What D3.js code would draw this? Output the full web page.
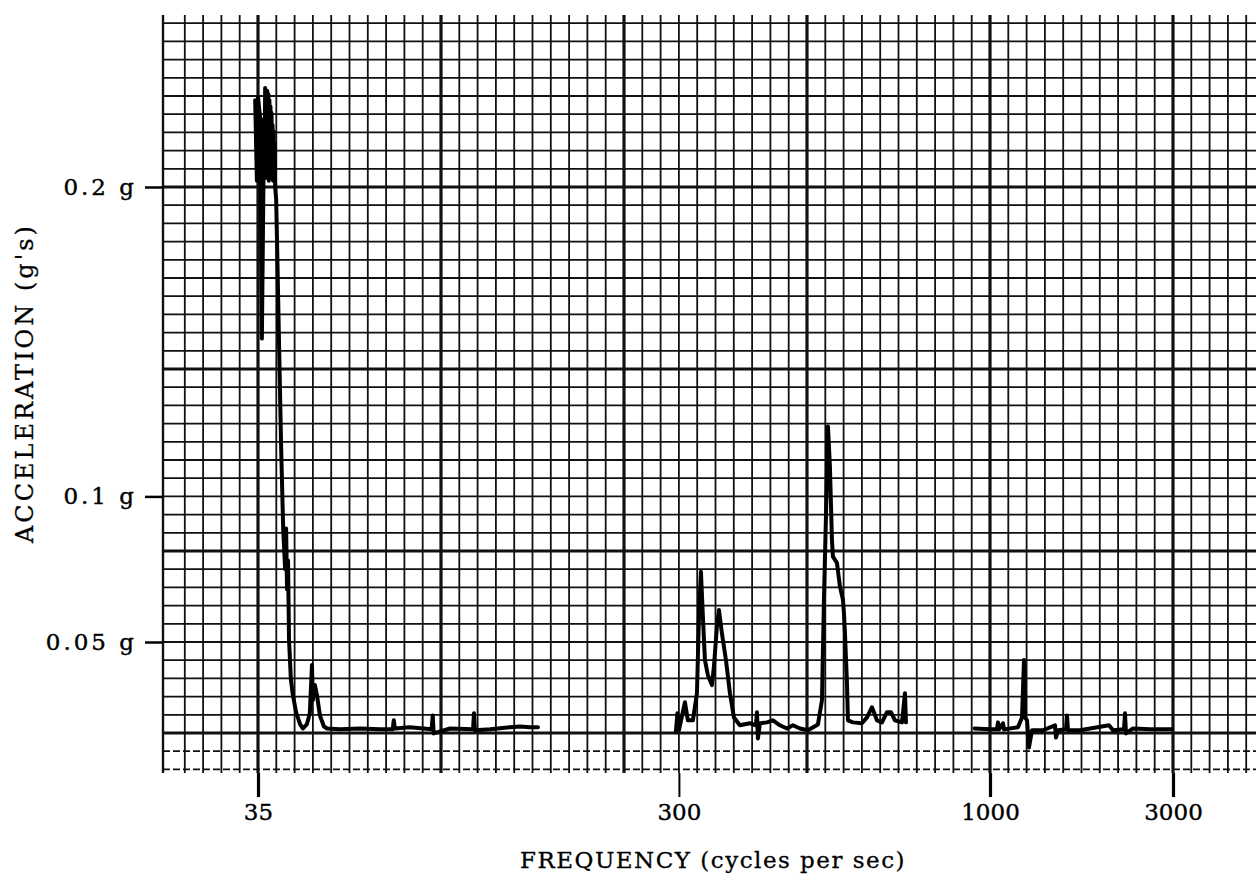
<!DOCTYPE html>
<html>
<head>
<meta charset="utf-8">
<script src="https://cdn.jsdelivr.net/npm/d3@7"></script>
<style>
  body { margin: 0; background: #fff; }
  svg { display: block; }
</style>
</head>
<body>
<svg id="chart"></svg>
<script>
'use strict';

// tick values and labels
var xTickValues = [35, 300, 1000, 3000];
var yTickValues = [0.05, 0.1, 0.2];
var yTickLabels = ['0.05 g', '0.1 g', '0.2 g'];

// trace, low band (cycles per sec / g's)
var freqLow = [34.5, 34.8, 35.0, 35.4, 35.7, 36.1, 36.2, 36.3, 36.4, 36.5, 36.6, 36.7, 36.8, 36.9, 37.0, 37.1,
    37.2, 37.3, 37.4, 37.5, 37.6, 37.7, 37.8, 37.9, 38.0, 38.1, 38.2, 38.4, 38.6, 39.0,
    39.4, 39.8, 40.2, 40.4, 40.6, 40.8, 41.0, 41.4, 41.8, 42.5, 43.4, 44.0, 44.9, 45.6, 46.1, 46.3, 46.8, 47.3,
    48.0, 49.0, 49.8, 53.2, 58.9, 65.2, 69.6, 70.0, 70.4, 75.9, 84.9, 85.4, 85.8, 93.3, 104.9, 105.4, 105.9,
    114.4, 126.6, 133.3, 140.2, 146.1];
var accLow = [0.228, 0.202, 0.229, 0.222, 0.151, 0.222, 0.203, 0.232, 0.205, 0.229, 0.203, 0.231, 0.204, 0.230,
    0.202, 0.228, 0.204, 0.226, 0.203, 0.224, 0.205, 0.220, 0.202, 0.218, 0.205, 0.214, 0.200, 0.196,
    0.180, 0.147, 0.115, 0.089, 0.075, 0.089, 0.068, 0.078, 0.051, 0.037, 0.032, 0.0259, 0.0217, 0.0203, 0.0217,
    0.0255, 0.0421, 0.0300, 0.0352, 0.0317, 0.0248, 0.0210, 0.0203, 0.0200, 0.0203, 0.0200, 0.0200, 0.0231,
    0.0203, 0.0207, 0.0200, 0.0248, 0.0186, 0.0203, 0.0200, 0.0255, 0.0197, 0.0200, 0.0207, 0.0210, 0.0207, 0.0207];

// trace, middle band
var freqMid = [295.4, 297.7, 300, 307.1, 310.6, 316.7, 321.7, 324.2, 326.7, 329.2, 331.8, 335.6, 340.9, 343.5,
    347.5, 350.3, 354.3, 359.9, 365.5, 371.2, 379.9, 394.9, 404.2, 405.8, 407.3, 410.5, 421.8, 431.7, 443.5,
    455.7, 466.4, 479.3, 494.3, 513.8, 521.9, 525.9, 530.0, 534.1, 538.2, 542.4, 544.5, 553.0, 559.5, 566.0,
    568.2, 570.4, 574.9, 577.1, 588.4, 609.2, 621.2, 633.3, 645.7, 658.3, 671.2, 681.6, 692.3, 711.3, 719.6, 722.4];
var accMid = [0.0190, 0.0255, 0.0197, 0.0293, 0.0231, 0.0231, 0.0324, 0.0586, 0.0741, 0.0586, 0.0438, 0.0386,
    0.0352, 0.0414, 0.0552, 0.0610, 0.0531, 0.0438, 0.0324, 0.0241, 0.0214, 0.0221, 0.0214, 0.0259, 0.0169,
    0.0221, 0.0224, 0.0231, 0.0214, 0.0203, 0.0214, 0.0203, 0.0197, 0.0217, 0.0300, 0.0645, 0.0931, 0.1226,
    0.1097, 0.0852, 0.0793, 0.0772, 0.0690, 0.0645, 0.0600, 0.0531, 0.0359, 0.0231, 0.0224, 0.0221, 0.0241,
    0.0276, 0.0231, 0.0224, 0.0259, 0.0259, 0.0231, 0.0224, 0.0324, 0.0224];

// trace, high band
var freqHigh = [941.7, 1000, 1042.9, 1049.2, 1055.5, 1081.2, 1087.6, 1183.0, 1211.8, 1226.4, 1233.8, 1248.7,
    1263.8, 1286.7, 1374.5, 1477.2, 1486.1, 1504.1, 1578.1, 1587.6, 1597.1, 1716.4, 2042.8, 2092.4, 2235.3,
    2248.8, 2262.3, 2359.3, 2612.8, 2981.7];
var accHigh = [0.0203, 0.0200, 0.0200, 0.0224, 0.0200, 0.0221, 0.0200, 0.0207, 0.0241, 0.0438, 0.0241, 0.0231,
    0.0138, 0.0197, 0.0197, 0.0214, 0.0172, 0.0197, 0.0200, 0.0248, 0.0197, 0.0197, 0.0214, 0.0197, 0.0200,
    0.0255, 0.0186, 0.0203, 0.0200, 0.0200];

var svgWidth = 1256,
    svgHeight = 882;

var svg = d3.select('#chart')
    .attr('width', svgWidth)
    .attr('height', svgHeight);

// graph paper: one unit = one small square
var xPaper = d3.scaleLinear().domain([0, 50]).range([258, 1173]);
var yPaper = d3.scaleLinear().domain([0, 30]).range([187, 733]);

var paperLeft = 163,
    paperTop = 15,
    paperBottom = yPaper(32.2);

// frequency axis is split into log pieces, the way the paper was marked
var x = d3.scaleLog()
    .domain(xTickValues)
    .range([xPaper(0), xPaper(23), xPaper(40), xPaper(50)]);

var y = d3.scaleLinear()
    .domain(yTickValues)
    .range([yPaper(25), yPaper(17), yPaper(0)]);

var grid = svg.append('g').attr('class', 'grid');

grid.selectAll('line.v')
    .data(d3.range(-5, 55))
    .enter().append('line')
    .attr('class', 'v')
    .attr('x1', function (d) { return d === -5 ? paperLeft : xPaper(d) })
    .attr('x2', function (d) { return d === -5 ? paperLeft : xPaper(d) })
    .attr('y1', paperTop)
    .attr('y2', paperBottom)
    .attr('stroke', '#111')
    .attr('stroke-width', function (d) { return d % 10 === 0 ? 3.2 : (d === -5 ? 2.4 : 1.8) });

grid.selectAll('line.h')
    .data(d3.range(-9, 33))
    .enter().append('line')
    .attr('class', 'h')
    .attr('x1', paperLeft)
    .attr('x2', svgWidth)
    .attr('y1', function (d) { return yPaper(d) })
    .attr('y2', function (d) { return yPaper(d) })
    .attr('stroke', '#111')
    .attr('stroke-dasharray', function (d) { return d > 30 ? '7,3' : null })
    .attr('stroke-width', function (d) { return d % 10 === 0 ? 3 : 1.8 });

// the recorder trace
var line = d3.line()
    .x(function (d) { return x(d.f) })
    .y(function (d) { return y(d.a) });

var bands = [
    freqLow.map(function (f, i) { return { f: f, a: accLow[i] } }),
    freqMid.map(function (f, i) { return { f: f, a: accMid[i] } }),
    freqHigh.map(function (f, i) { return { f: f, a: accHigh[i] } })
];

svg.append('g')
    .attr('class', 'trace')
    .selectAll('path')
    .data(bands)
    .enter().append('path')
    .attr('fill', 'none')
    .attr('stroke', '#000')
    .attr('stroke-width', 4)
    .attr('stroke-linejoin', 'round')
    .attr('stroke-linecap', 'round')
    .attr('d', line);

// axes
var xAxis = svg.append('g')
    .attr('class', 'axis x')
    .attr('transform', 'translate(0,' + paperBottom + ')')
    .call(d3.axisBottom(x)
        .tickValues(xTickValues)
        .tickSize(24)
        .tickPadding(7)
        .tickFormat(d3.format('d')));

xAxis.select('.domain').remove();
xAxis.selectAll('.tick line')
    .attr('stroke', '#000')
    .attr('stroke-width', function (d) { return d === 300 ? 2 : 3.2 });
xAxis.selectAll('.tick text')
    .attr('fill', '#000')
    .attr('stroke', '#000')
    .attr('stroke-width', 0.4)
    .style('font-family', '"DejaVu Serif", serif')
    .style('font-size', '23px');

var yAxis = svg.append('g')
    .attr('class', 'axis y')
    .attr('transform', 'translate(' + paperLeft + ',0)')
    .call(d3.axisLeft(y)
        .tickValues(yTickValues)
        .tickSize(18)
        .tickPadding(8)
        .tickFormat(function (d, i) { return yTickLabels[i] }));

yAxis.select('.domain').remove();
yAxis.selectAll('.tick line')
    .attr('stroke', '#000')
    .attr('stroke-width', 2.5);
yAxis.selectAll('.tick text')
    .attr('fill', '#000')
    .attr('stroke', '#000')
    .attr('stroke-width', 0.4)
    .style('font-family', '"DejaVu Serif", serif')
    .style('font-size', '23px')
    .style('letter-spacing', '3px');

svg.append('text')
    .attr('x', 520)
    .attr('y', 868)
    .attr('fill', '#000')
    .attr('stroke', '#000')
    .attr('stroke-width', 0.3)
    .style('font-family', '"DejaVu Serif", serif')
    .style('font-size', '23px')
    .style('letter-spacing', '1.5px')
    .text('FREQUENCY (cycles per sec)');

svg.append('text')
    .attr('transform', 'translate(33,543) rotate(-90)')
    .attr('fill', '#000')
    .attr('stroke', '#000')
    .attr('stroke-width', 0.3)
    .style('font-family', '"DejaVu Serif", serif')
    .style('font-size', '24px')
    .style('letter-spacing', '3px')
    .text("ACCELERATION (g's)");
</script>
</body>
</html>
